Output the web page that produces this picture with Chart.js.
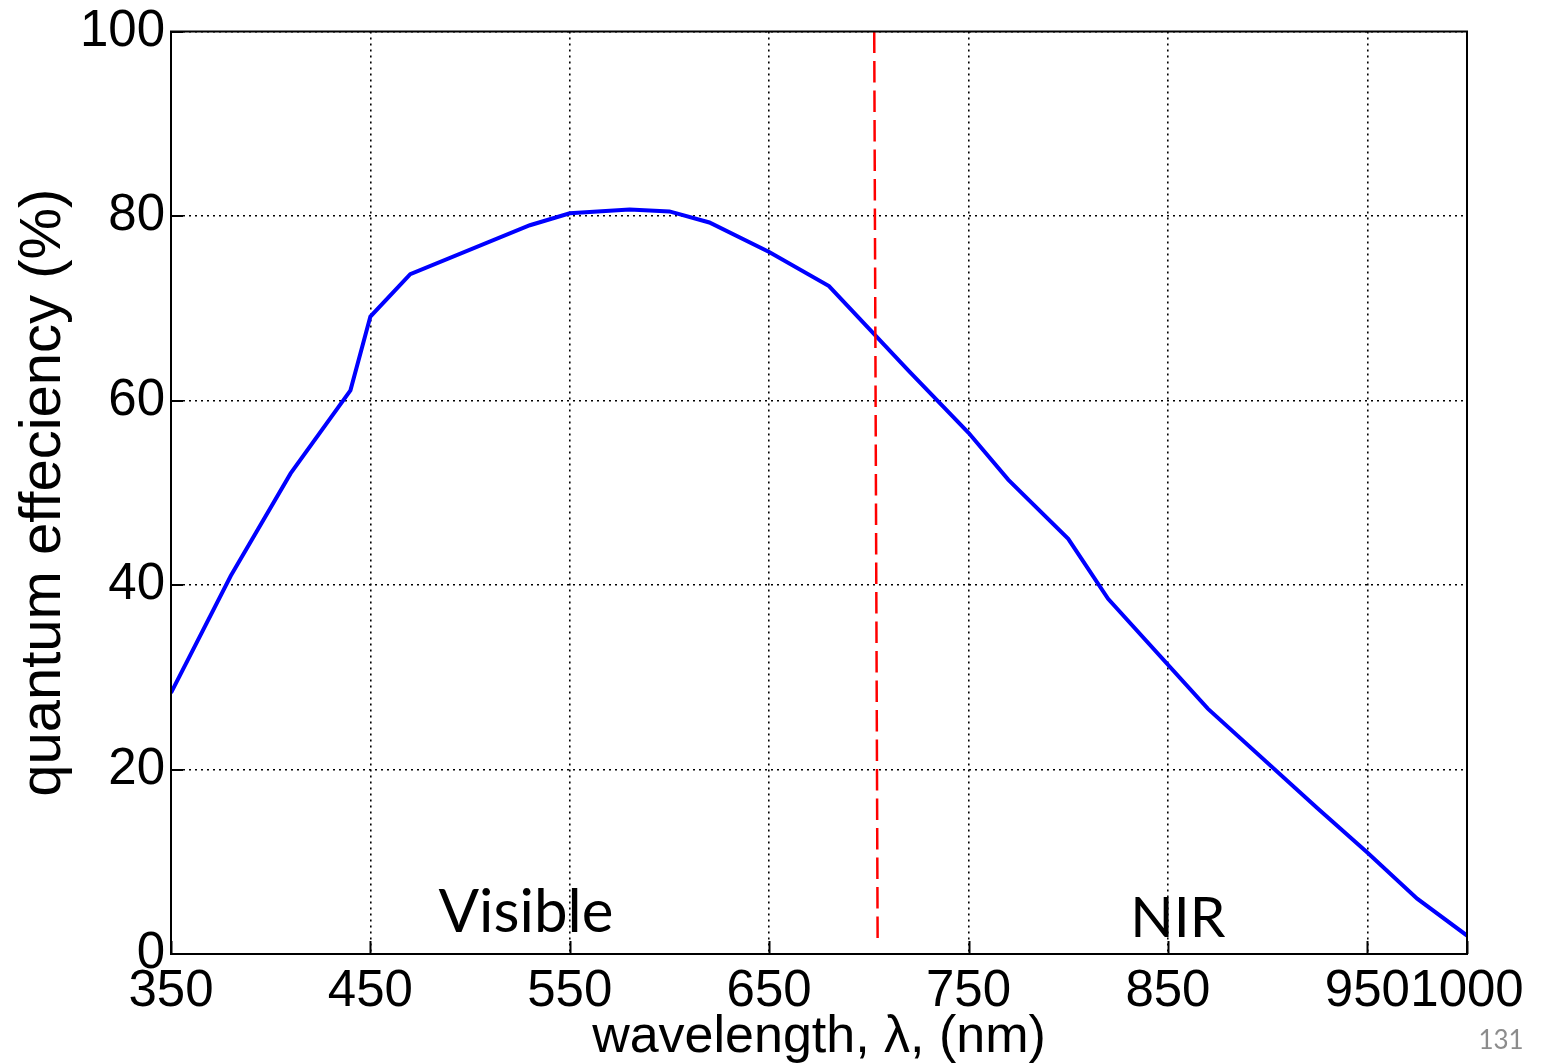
<!DOCTYPE html>
<html><head><meta charset="utf-8">
<script src="https://cdn.jsdelivr.net/npm/chart.js@4/dist/chart.umd.min.js"></script>
<style>html,body{margin:0;padding:0;background:#fff;overflow:hidden}</style>
</head><body>
<canvas id="c" width="1544" height="1064" style="width:1544px;height:1064px;display:block"></canvas>
<script>
// ---- data ----
const wavelengths = [350,380,410,440,450,470,530,550,580,600,620,650,680,720,750,770,800,820,870,925,950,975,1000];
const efficiency  = [28.3,41.0,52.1,61.1,69.1,73.7,79.0,80.3,80.7,80.5,79.3,76.1,72.4,63.2,56.5,51.4,45.0,38.5,26.6,15.8,11.0,6.0,2.0];
const cutoffX = [702.7, 704.4];
const cutoffY = [100, 1.5];
const xTicks = [350,450,550,650,750,850,950,1000];
const yTicks = [0,20,40,60,80,100];
const regionLabels = ['Visible','NIR'];
const pageNumber = '131';

const qePoints = wavelengths.map((w,i)=>({x:w, y:efficiency[i]}));
const cutPoints = cutoffX.map((w,i)=>({x:w, y:cutoffY[i]}));

const decor = {
  id:'decor',
  beforeDraw(chart, args, opts){
    const ctx = chart.ctx, xs = chart.scales.x, ys = chart.scales.y;
    ctx.save();
    ctx.fillStyle = '#000';
    ctx.textAlign = 'center';
    ctx.textBaseline = 'alphabetic';
    ctx.font = '60px Lato';
    regionLabels.forEach((t,i)=>{
      const p = opts.labelPos[i];
      ctx.font = opts.labelSize[i] + 'px Lato';
      ctx.fillText(t, xs.getPixelForValue(p[0]), ys.getPixelForValue(p[1]));
    });
    ctx.fillStyle = '#8c8c8c';
    ctx.font = '26px Lato';
    ctx.fillText(pageNumber, 1501, 1049);
    ctx.restore();
  },
  afterDraw(chart){
    const ctx = chart.ctx, a = chart.chartArea, xs = chart.scales.x, ys = chart.scales.y;
    ctx.save();
    ctx.strokeStyle = '#000';
    ctx.lineWidth = 2;
    ctx.setLineDash([]);
    ctx.beginPath();
    xs.ticks.forEach(t=>{
      const px = Math.round(xs.getPixelForValue(t.value))+0.5;
      ctx.moveTo(px, a.bottom); ctx.lineTo(px, a.bottom-13);
    });
    ys.ticks.forEach(t=>{
      const py = Math.round(ys.getPixelForValue(t.value));
      ctx.moveTo(a.left, py); ctx.lineTo(a.left+12, py);
    });
    ctx.stroke();
    ctx.strokeRect(a.left, a.top, a.right-a.left, a.bottom-a.top);
    ctx.restore();
  }
};

new Chart(document.getElementById('c'), {
  type:'line',
  data:{
    datasets:[
      {data:qePoints, borderColor:'#0000ff', borderWidth:4, pointRadius:0, tension:0, fill:false, order:2},
      {data:cutPoints, borderColor:'#ff0000', borderWidth:2.5, borderDash:[21.5,8], pointRadius:0, tension:0, fill:false, order:1}
    ]
  },
  options:{
    responsive:false,
    animation:false,
    devicePixelRatio:1,
    layout:{padding:{top:29,right:77,left:0,bottom:0}},
    plugins:{legend:{display:false}, tooltip:{enabled:false},
      decor:{labelPos:[[528,2.4],[855,1.8]], labelSize:[60,57]}},
    scales:{
      x:{
        type:'linear', min:350, max:1000,
        afterBuildTicks(s){ s.ticks = xTicks.map(v=>({value:v})); },
        afterFit(s){ s.height = 110; },
        ticks:{autoSkip:false, maxRotation:0, minRotation:0, padding:12, color:'#000',
          font:{family:'"Liberation Sans", Arial, sans-serif', size:51, lineHeight:1},
          callback:(v)=>String(v)},
        grid:{color:'#000', lineWidth:1.6, drawTicks:false},
        border:{display:false, dash:[2,4]},
        title:{display:true, text:'wavelength, λ, (nm)', color:'#000',
          font:{family:'"Liberation Sans", Arial, sans-serif', size:52, lineHeight:1.0}, padding:{top:0,bottom:0}}
      },
      y:{
        type:'linear', min:0, max:100,
        afterBuildTicks(s){ s.ticks = yTicks.map(v=>({value:v})); },
        afterFit(s){ s.width = 171; },
        ticks:{padding:6, color:'#000',
          font:{family:'"Liberation Sans", Arial, sans-serif', size:51, lineHeight:1}},
        grid:{color:'#000', lineWidth:1.6, drawTicks:false},
        border:{display:false, dash:[2,4]},
        title:{display:true, text:'quantum effeciency (%)', color:'#000',
          font:{family:'"Liberation Sans", Arial, sans-serif', size:58, lineHeight:1.2}, padding:{top:9,bottom:0}}
      }
    }
  },
  plugins:[decor]
});
</script>
</body></html>
